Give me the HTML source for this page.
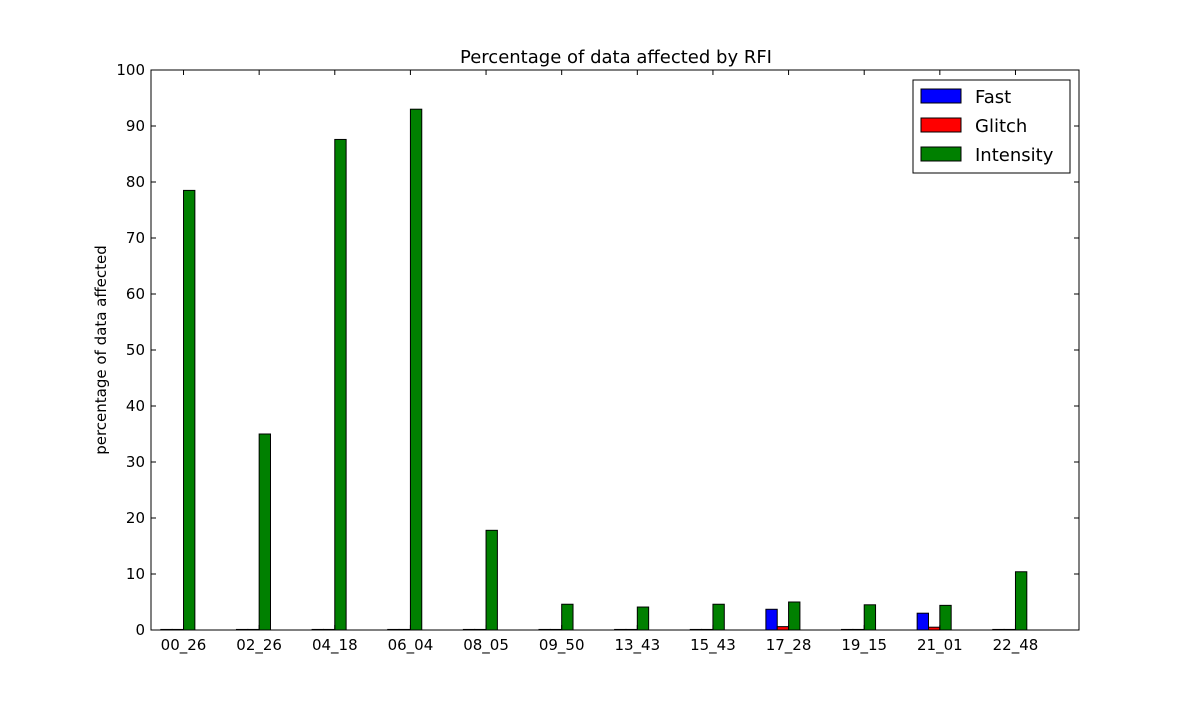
<!DOCTYPE html>
<html><head><meta charset="utf-8"><style>
body{margin:0;background:#fff;}
svg text{font-family:"DejaVu Sans","Liberation Sans",sans-serif;fill:#000;}
</style></head><body>
<svg id="chart" width="1200" height="700" xmlns="http://www.w3.org/2000/svg">
<rect width="1200" height="700" fill="#fff"/>
<text x="616" y="63" font-size="18" text-anchor="middle">Percentage of data affected by RFI</text>
<text transform="translate(106,350) rotate(-90)" font-size="15" text-anchor="middle">percentage of data affected</text>
<g id="bars"></g>
<g id="axes"></g>
<rect x="151" y="70" width="928" height="560" fill="none" stroke="#000" stroke-width="1"/>
<g>
<rect x="913" y="80" width="157" height="93" fill="#fff" stroke="#000"/>
<rect x="921" y="89" width="40" height="14" fill="#0000ff" stroke="#000"/>
<text x="975" y="103" font-size="18">Fast</text>
<rect x="921" y="118" width="40" height="14" fill="#ff0000" stroke="#000"/>
<text x="975" y="132" font-size="18">Glitch</text>
<rect x="921" y="147" width="40" height="14" fill="#008000" stroke="#000"/>
<text x="975" y="161" font-size="18">Intensity</text>
</g>
</svg>
<script>
const categories=["00_26","02_26","04_18","06_04","08_05","09_50","13_43","15_43","17_28","19_15","21_01","22_48"];
const fastValues=[0.1,0.1,0.1,0.1,0.1,0.1,0.1,0.1,3.7,0.1,3.0,0.1];
const glitchValues=[0.1,0.1,0.1,0.1,0.1,0.1,0.1,0.1,0.6,0.1,0.5,0.1];
const intensityValues=[78.5,35,87.6,93,17.8,4.6,4.1,4.6,5.0,4.5,4.4,10.4];
const yTicks=[0,10,20,30,40,50,60,70,80,90,100];
const NS="http://www.w3.org/2000/svg";
const L=151,R=1079,T=70,B=630;
const xMin=-0.13,xMax=12.14,yMax=100;
function xs(v){return L+(v-xMin)/(xMax-xMin)*(R-L);}
function ys(v){return B-v/yMax*(B-T);}
const bw=0.15;
const bars=document.getElementById('bars');
const series=[[fastValues,'#0000ff','fast'],[glitchValues,'#ff0000','glitch'],[intensityValues,'#008000','intensity']];
series.forEach((s,si)=>{
 s[0].forEach((v,i)=>{
  const r=document.createElementNS(NS,'rect');
  const x0=xs(i+si*bw),x1=xs(i+(si+1)*bw);
  r.setAttribute('x',x0);r.setAttribute('width',x1-x0);
  r.setAttribute('y',ys(v));r.setAttribute('height',B-ys(v));
  r.setAttribute('fill',s[1]);r.setAttribute('stroke','#000');r.setAttribute('stroke-width','1');
  
  
  bars.appendChild(r);
 });
});
const axes=document.getElementById('axes');
yTicks.forEach(t=>{
 const y=ys(t);
 [[L,L+5],[R-5,R]].forEach(p=>{
  const l=document.createElementNS(NS,'line');
  l.setAttribute('x1',p[0]);l.setAttribute('x2',p[1]);l.setAttribute('y1',y);l.setAttribute('y2',y);l.setAttribute('stroke','#000');
  
  
  axes.appendChild(l);
 });
 const tx=document.createElementNS(NS,'text');
 tx.setAttribute('x',L-6);tx.setAttribute('y',y+5);tx.setAttribute('font-size','15');tx.setAttribute('text-anchor','end');
 tx.textContent=t;
 
 
 axes.appendChild(tx);
});
categories.forEach((c,i)=>{
 const x=xs(i+2*bw);
 [[B,B-5],[T,T+5]].forEach(p=>{
  const l=document.createElementNS(NS,'line');
  l.setAttribute('x1',x);l.setAttribute('x2',x);l.setAttribute('y1',p[0]);l.setAttribute('y2',p[1]);l.setAttribute('stroke','#000');
  
  
  axes.appendChild(l);
 });
 const tx=document.createElementNS(NS,'text');
 tx.setAttribute('x',x);tx.setAttribute('y',B+20);tx.setAttribute('font-size','15');tx.setAttribute('text-anchor','middle');
 tx.textContent=c;
 
 
 axes.appendChild(tx);
});
</script>
</body></html>
